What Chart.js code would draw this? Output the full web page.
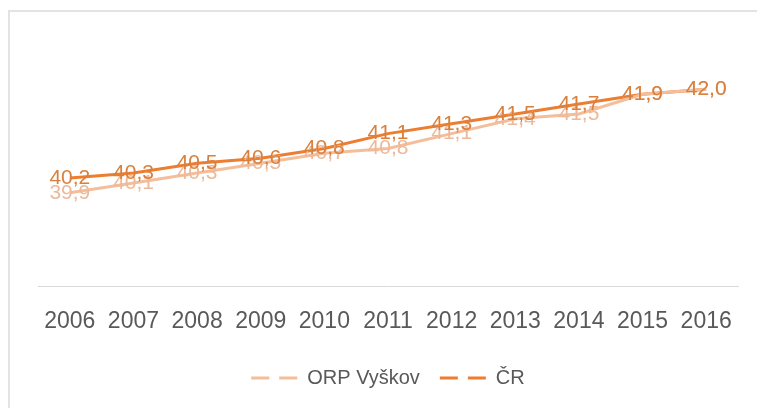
<!DOCTYPE html>
<html>
<head>
<meta charset="utf-8">
<script src="https://cdn.jsdelivr.net/npm/chart.js@4.4.0/dist/chart.umd.min.js"></script>
<style>
html,body{margin:0;padding:0;background:#fff;overflow:hidden;}
#frame{position:absolute;left:8px;top:10px;width:770px;height:420px;border:2px solid #e3e3e3;box-sizing:border-box;}
#wrap{position:absolute;left:0;top:0;width:757px;height:408px;}
</style>
</head>
<body>
<div id="frame"></div>
<div id="wrap"><canvas id="c" width="757" height="408"></canvas></div>
<script>
const categories = ['2006','2007','2008','2009','2010','2011','2012','2013','2014','2015','2016'];
const orpVyskov = [39.9, 40.1, 40.3, 40.5, 40.7, 40.8, 41.1, 41.4, 41.5, 41.9, 42.0];
const cr = [40.2, 40.3, 40.5, 40.6, 40.8, 41.1, 41.3, 41.5, 41.7, 41.9, 42.0];
const seriesNames = ['ORP Vyškov', 'ČR'];

const FONT = '"Liberation Sans", Arial, sans-serif';

const labelPlugin = {
  id: 'valueLabels',
  afterDatasetsDraw(chart) {
    const ctx = chart.ctx;
    ctx.save();
    ctx.font = '21px ' + FONT;
    ctx.textAlign = 'center';
    ctx.textBaseline = 'middle';
    chart.data.datasets.forEach((ds, i) => {
      const meta = chart.getDatasetMeta(i);
      ctx.fillStyle = ds.labelColor;
      meta.data.forEach((pt, j) => {
        const txt = ds.data[j].toFixed(1).replace('.', ',');
        ctx.fillText(txt, pt.x, pt.y);
      });
    });
    ctx.restore();
  }
};

new Chart(document.getElementById('c'), {
  type: 'line',
  data: {
    labels: categories,
    datasets: [
      { label: seriesNames[0], data: orpVyskov, borderColor: '#F5BE9A', backgroundColor: '#F5BE9A', borderWidth: 3, pointRadius: 0, tension: 0, labelColor: '#EDB99B' },
      { label: seriesNames[1], data: cr, borderColor: '#ED7D31', backgroundColor: '#ED7D31', borderWidth: 3, pointRadius: 0, tension: 0, labelColor: '#D9803C' }
    ]
  },
  options: {
    responsive: false,
    animation: false,
    layout: { padding: { left: 38, right: 19, top: 40, bottom: 10 } },
    plugins: {
      tooltip: { enabled: false },
      legend: {
        position: 'bottom',
        labels: {
          color: '#595959',
          font: { family: FONT, size: 20 },
          usePointStyle: true,
          pointStyleWidth: 46,
          boxHeight: 20,
          padding: 20,
          generateLabels(chart) {
            return chart.data.datasets.map((ds, i) => ({
              text: ds.label,
              fillStyle: ds.borderColor,
              strokeStyle: ds.borderColor,
              lineWidth: 3,
              lineDash: [18, 10],
              pointStyle: 'line',
              fontColor: '#595959',
              datasetIndex: i,
              hidden: false
            }));
          }
        }
      }
    },
    scales: {
      x: {
        offset: true,
        grid: { display: false },
        border: { display: true, color: '#d9d9d9', width: 1 },
        ticks: { color: '#595959', font: { family: FONT, size: 23 }, padding: 13, maxRotation: 0, autoSkip: false }
      },
      y: {
        display: false,
        min: 38,
        max: 43
      }
    }
  },
  plugins: [labelPlugin]
});
</script>
</body>
</html>
